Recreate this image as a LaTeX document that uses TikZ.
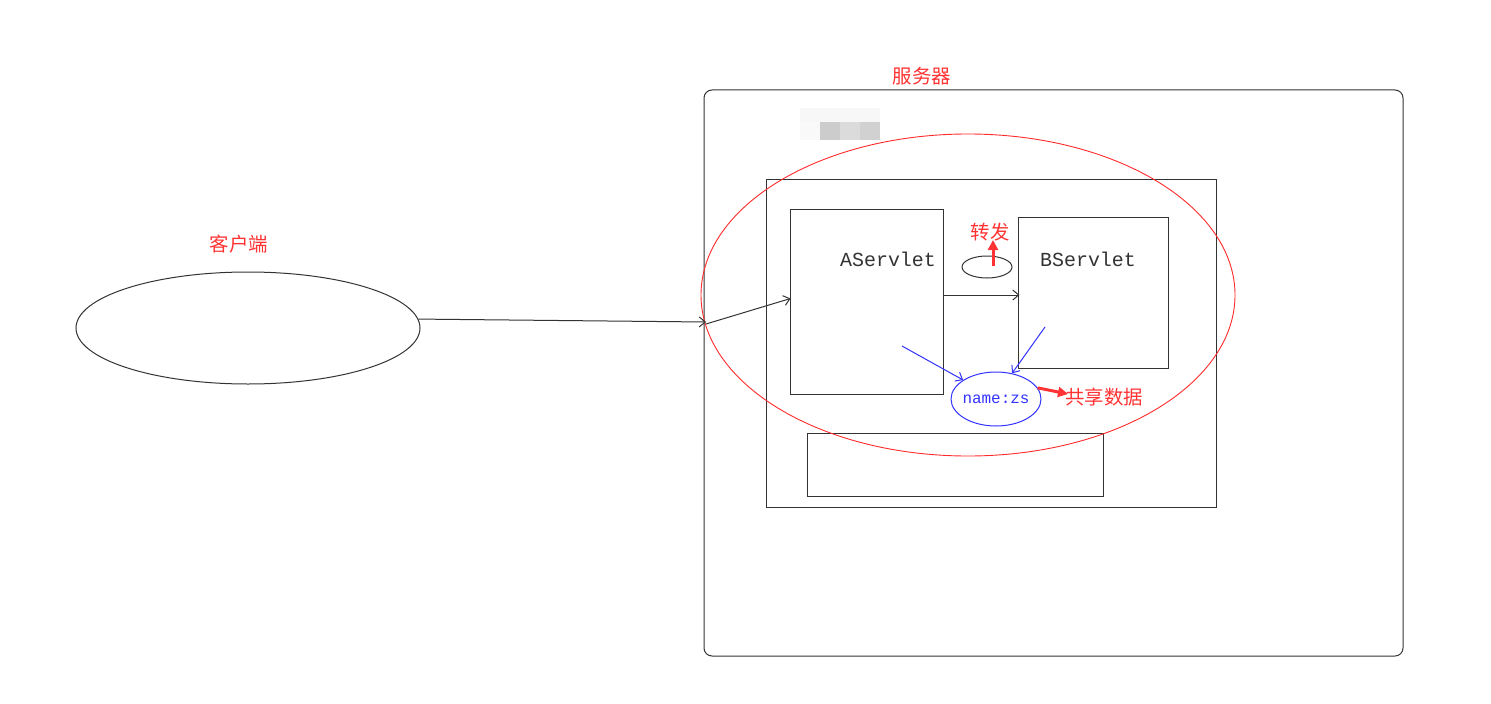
\documentclass[tikz,border=0pt]{standalone}
\usepackage{fontspec}
\setmonofont{Liberation Mono}
\newfontfamily\cjk{Noto Sans CJK SC}
\usetikzlibrary{shapes.geometric,arrows.meta,calc}
\definecolor{lblred}{HTML}{FF3333}
\definecolor{ellred}{HTML}{FF2A2A}
\definecolor{myblue}{HTML}{3333FF}
\definecolor{ink}{HTML}{333333}
\begin{document}
\begin{tikzpicture}[x=1bp,y=-1bp,
  line width=1bp,
  box/.style={draw=ink,rectangle,inner sep=0pt},
  oval/.style={draw=ink,ellipse,inner sep=0pt},
  cn/.style={font=\cjk\fontsize{19.5}{22}\selectfont,text=lblred,inner sep=1bp},
  servtext/.style={font=\ttfamily\fontsize{20}{24}\selectfont,text=ink,inner sep=0pt},
  openarr/.style={-{Straight Barb[length=6bp,width=10bp]}},
  redarr/.style={draw=lblred,line width=3bp,-{Triangle[length=10bp,width=10bp]}}
]
\fill[white] (0,0) rectangle (1491,704);
\useasboundingbox (0,0) rectangle (1491,704);

% blurred mark
\fill[gray!6] (800,108) rectangle (880,122);
\fill[gray!5] (800,122) rectangle (820,140);
\fill[gray!40] (820,122) rectangle (840,140);
\fill[gray!28] (840,122) rectangle (860,140);
\fill[gray!36] (860,122) rectangle (880,140);

% client
\node[oval,minimum width=344bp,minimum height=112bp] (client) at (248,328) {};
\node[cn] (clientlbl) at (239,244) {客户端};

% server
\node[box,rounded corners=8bp,minimum width=699bp,minimum height=566bp] (server) at (1053.5,373) {};
\node[cn] (serverlbl) at (922,76) {服务器};

\node[box,minimum width=450bp,minimum height=327bp] (container) at (991,343.5) {};
\node[box,minimum width=153bp,minimum height=185bp] (aserv) at (866.5,301.5) {};
\node[box,minimum width=150bp,minimum height=151bp] (bserv) at (1093,292.5) {};
\node[box,minimum width=296bp,minimum height=63bp] (bottombox) at (955,464.5) {};
\node[servtext] (atext) at (888,259) {AServlet};
\node[servtext] (btext) at (1088,259) {BServlet};

% forward loop
\node[oval,minimum width=50bp,minimum height=22bp] (loop) at (987,267) {};
\node[cn] (fwdlbl) at (990,232) {转发};
\coordinate (fwdtip) at (993,240);
\draw[redarr] ($(loop.center)+(6,-1)$) -- (fwdtip);

% big red ellipse
\node[draw=ellred,ellipse,line width=0.9bp,minimum width=534bp,minimum height=322bp,inner sep=0pt] (scope) at (968,295) {};

% shared data
\node[draw=myblue,ellipse,minimum width=90bp,minimum height=54bp,inner sep=0pt] (shared) at (996,399) {};
\node[font=\ttfamily\fontsize{16}{18}\selectfont,text=myblue,inner sep=0pt] (sharedtext) at (996,399) {name:zs};
\node[cn] (sharedlbl) at (1104,397) {共享数据};
\coordinate (sharedtip) at (1068,394);
\draw[redarr] (shared.15) -- (sharedtip);

% connectors
\coordinate (entry) at (706,322);
\draw[draw=ink,openarr] (client.3) -- (entry);
\draw[draw=ink,openarr] ($(entry)+(0,2)$) -- ($(aserv.west)+(1,-3)$);
\coordinate (yline) at (0,295);
\draw[draw=ink,openarr] (aserv.east |- yline) -- ($(bserv.west |- yline)+(2,0)$);

\coordinate (bluea) at (902,346);
\coordinate (blueb) at (1045,327);
\draw[draw=myblue,openarr] (bluea) -- (shared.150);
\draw[draw=myblue,openarr] (blueb) -- (shared.58);
\end{tikzpicture}
\end{document}
